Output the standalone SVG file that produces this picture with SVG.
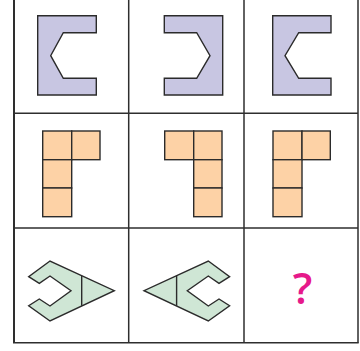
<svg xmlns="http://www.w3.org/2000/svg" width="360" height="351" viewBox="0 0 360 351">
  <style>
    .grid { fill: none; stroke: #2e2e2e; stroke-width: 1.5; }
    .purple { fill: #c8c6e2; stroke: #2b2b2b; stroke-width: 1.4; stroke-linejoin: miter; }
    .orange { fill: #fdd2a6; stroke: #2b2b2b; stroke-width: 1.4; }
    .green { fill: #cfe6d5; stroke: #2b2b2b; stroke-width: 1.4; stroke-linejoin: miter; }
    .divider { fill: none; stroke: #2b2b2b; stroke-width: 1.4; }
    .q { fill: #e6198a; font-family: "Open Sans", "Liberation Sans", Arial, sans-serif; font-size: 43px; font-weight: 600; text-anchor: middle; }
  </style>
  <rect width="360" height="351" fill="#ffffff"/>
  <g id="grid">
    <line class="grid" x1="14" y1="-2" x2="14" y2="342.7" stroke="#4a4a4a" style="stroke-width:2"/>
    <line class="grid" x1="128.7" y1="-2" x2="128.7" y2="342.7"/>
    <line class="grid" x1="244" y1="-2" x2="244" y2="342.7"/>
    <line class="grid" x1="358" y1="-2" x2="358" y2="342.7"/>
    <line class="grid" x1="14" y1="113.3" x2="358" y2="113.3"/>
    <line class="grid" x1="14" y1="228" x2="358" y2="228"/>
    <line class="grid" x1="13" y1="342.7" x2="358.7" y2="342.7"/>
  </g>
  <g id="r1c1">
    <polygon class="purple" points="37.7,15.7 96.3,15.7 96.3,32.7 63.3,32.7 50.7,55.7 63.3,78.3 96.3,78.3 96.3,95 37.7,95"/>
  </g>
  <g id="r1c2">
    <polygon class="purple" points="222.7,15.7 164.3,15.7 164.3,32.7 196.7,32.7 210,55.7 196.7,78.3 164.3,78.3 164.3,95 222.7,95"/>
  </g>
  <g id="r1c3">
    <polygon class="purple" points="272.7,15.7 331,15.7 331,32.7 298.7,32.7 285,55.7 298.7,78.3 331,78.3 331,95 272.7,95"/>
  </g>
  <g id="r2c1">
    <rect class="orange" x="42.7" y="131" width="29" height="28.7"/>
    <rect class="orange" x="71.7" y="131" width="28.3" height="28.7"/>
    <rect class="orange" x="42.7" y="159.7" width="29" height="28.3"/>
    <rect class="orange" x="42.7" y="188" width="29" height="28.7"/>
  </g>
  <g id="r2c2">
    <rect class="orange" x="164.7" y="131" width="29" height="28.7"/>
    <rect class="orange" x="193.7" y="131" width="28.3" height="28.7"/>
    <rect class="orange" x="193.7" y="159.7" width="28.3" height="28.3"/>
    <rect class="orange" x="193.7" y="188" width="28.3" height="28.7"/>
  </g>
  <g id="r2c3">
    <rect class="orange" x="273" y="131" width="29" height="28.7"/>
    <rect class="orange" x="302" y="131" width="28.3" height="28.7"/>
    <rect class="orange" x="273" y="159.7" width="29" height="28.3"/>
    <rect class="orange" x="273" y="188" width="29" height="28.7"/>
  </g>
  <g id="r3c1">
    <polygon class="green" points="50,261 28.7,276.7 39.3,283.3 50,276 71,290.7 50,306 39.3,299 28.7,305.7 50,321 114.3,290.7"/>
    <line class="divider" x1="81.7" y1="275.8" x2="81.7" y2="305.8"/>
  </g>
  <g id="r3c2">
    <polygon class="green" points="208.3,261 229.6,276.7 219,283.3 208.3,276 187.3,290.7 208.3,306 219,299 229.6,305.7 208.3,321 144,290.7"/>
    <line class="divider" x1="176.6" y1="275.8" x2="176.6" y2="305.8"/>
  </g>
  <g id="r3c3">
    <text class="q" x="302.5" y="304.3">?</text>
  </g>
</svg>
